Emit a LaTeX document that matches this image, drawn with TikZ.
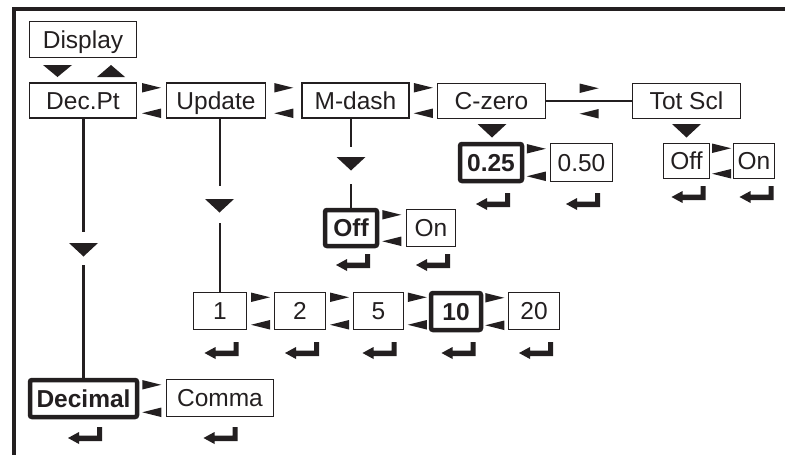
\documentclass[tikz,border=0pt]{standalone}
\usepackage{fontspec}
\setmainfont{Liberation Sans}
\usetikzlibrary{calc}
\definecolor{ink}{RGB}{35,31,32}
\tikzset{
  box/.style={draw=ink, line width=1.4pt, inner sep=0pt, outer sep=0pt,
    font=\fontsize{24.5}{28}\selectfont, text=ink, text height=17.5pt, text depth=0pt},
  thickbox/.style={box, line width=4.5pt, rounded corners=2pt,
    font=\fontsize{24.5}{28}\selectfont\bfseries},
  conn/.style={draw=ink, line width=2.4pt},
  thinconn/.style={draw=ink, line width=1.6pt},
  enter/.pic={\fill[ink] (-17,11) -- (-6,5) -- (-6,8.5) -- (12,8.5) -- (12,0)
     -- (17,0) -- (17,14) -- (-6,14) -- (-6,17) -- cycle;},
}
\newcommand\lrpair[2]{%
  \fill[ink] let \p1=($(#1.east)!0.5!(#2.west)$), \p2=(#1.north), \p3=(#1.south) in
    (\x1-9.5pt,\y2) -- (\x1+9.5pt,\y2-4.75pt) -- (\x1-9.5pt,\y2-9.5pt) -- cycle
    (\x1+9.5pt,\y3) -- (\x1-9.5pt,\y3+4.75pt) -- (\x1+9.5pt,\y3+9.5pt) -- cycle;}
\newcommand\dtri[2]{\fill[ink] (#1-14.5,#2) -- (#1+14.5,#2) -- (#1,#2+13.5) -- cycle;}
\begin{document}
\begin{tikzpicture}[x=1pt,y=-1pt]
\useasboundingbox (0,0) rectangle (785,455);
% frame
\draw[ink, line width=4pt] (785,9) -- (14,9) -- (14,455);
% boxes
\node[box, minimum width=107pt, minimum height=36pt] (disp) at (83,39.5) {Display};
\node[box, minimum width=107pt, minimum height=35pt] (decpt) at (83,100.5) {Dec.Pt};
\node[box, minimum width=99pt, minimum height=35pt] (upd) at (216,100.5) {Update};
\node[box, minimum width=107pt, minimum height=35pt] (mdash) at (355.5,100.5) {M-dash};
\node[box, minimum width=108pt, minimum height=35pt] (czero) at (491.5,101) {C-zero};
\node[box, minimum width=108pt, minimum height=35pt] (tot) at (686.5,101) {Tot Scl};
\node[thickbox, minimum width=62pt, minimum height=37pt] (c25) at (491,162.5) {0.25};
\node[box, minimum width=62pt, minimum height=38pt] (c50) at (581.5,162.5) {0.50};
\node[box, minimum width=46pt, minimum height=35pt] (toff) at (686.5,161) {Off};
\node[box, minimum width=41pt, minimum height=35pt] (ton) at (754,161) {On};
\node[thickbox, minimum width=52pt, minimum height=36pt] (moff) at (351,228) {Off};
\node[box, minimum width=49pt, minimum height=37pt] (mon) at (431,228) {On};
\node[box, minimum width=53pt, minimum height=37pt] (u1) at (220,311) {1};
\node[box, minimum width=51pt, minimum height=37pt] (u2) at (300,311) {2};
\node[box, minimum width=50pt, minimum height=37pt] (u5) at (378.5,311) {5};
\node[thickbox, minimum width=50pt, minimum height=37pt] (u10) at (456,311.5) {10};
\node[box, minimum width=51pt, minimum height=37pt] (u20) at (534,311) {20};
\node[thickbox, minimum width=107pt, minimum height=37pt] (dec) at (83.5,398.5) {Decimal};
\node[box, minimum width=107pt, minimum height=37pt] (comma) at (220,398) {Comma};
% display arrows
\fill[ink] (43,65) -- (72,65) -- (57.5,77) -- cycle;
\fill[ink] (97,77) -- (125,77) -- (111,65) -- cycle;
% left/right pairs
\lrpair{decpt}{upd}
\lrpair{upd}{mdash}
\lrpair{mdash}{czero}
\lrpair{czero}{tot}
\lrpair{c25}{c50}
\lrpair{toff}{ton}
\lrpair{moff}{mon}
\lrpair{u1}{u2}
\lrpair{u2}{u5}
\lrpair{u5}{u10}
\lrpair{u10}{u20}
\lrpair{dec}{comma}
% connectors
\coordinate (d1) at (83.5,232);
\coordinate (d2) at (83.5,265);
\draw[conn] (dec.north |- decpt.south) -- (d1);
\draw[conn] (d2) -- (dec.north);
\dtri{83.5}{243}
\coordinate (up1) at (220,186);
\coordinate (up2) at (220,223);
\draw[conn] (u1.north |- upd.south) -- (up1);
\draw[conn] (up2) -- (u1.north);
\dtri{219.5}{199}
\coordinate (m1) at (351,147);
\coordinate (m2) at (351,184);
\draw[conn] (moff.north |- mdash.south) -- (m1);
\draw[conn] (m2) -- (moff.north);
\dtri{351}{157}
\draw[thinconn] (czero.east) -- (tot.west);
\dtri{492}{124}
\dtri{686.5}{124}
% enter symbols
\pic at (85,427) {enter};
\pic at (220.5,427) {enter};
\pic at (221.5,342) {enter};
\pic at (302,342) {enter};
\pic at (379.5,342) {enter};
\pic at (458.5,342) {enter};
\pic at (536,342) {enter};
\pic at (353,254) {enter};
\pic at (433,254) {enter};
\pic at (493,193) {enter};
\pic at (583,193) {enter};
\pic at (688.5,186) {enter};
\pic at (756.5,186) {enter};
\end{tikzpicture}
\end{document}
